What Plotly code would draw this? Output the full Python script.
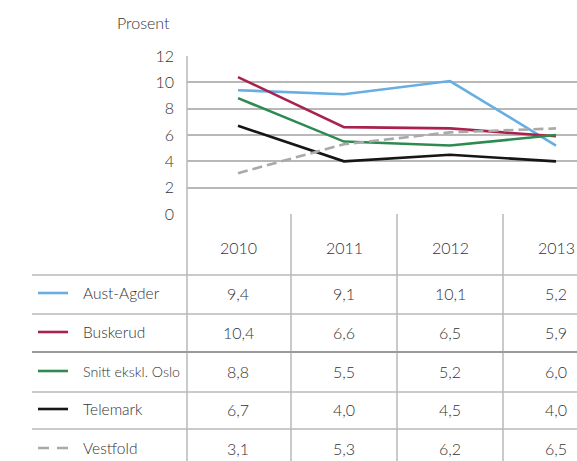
import plotly.graph_objects as go

# ---- data ----
years = [2010, 2011, 2012, 2013]
series_names = ["Aust-Agder", "Buskerud", "Snitt ekskl. Oslo", "Telemark", "Vestfold"]
aust_agder = [9.4, 9.1, 10.1, 5.2]
buskerud = [10.4, 6.6, 6.5, 5.9]
snitt_ekskl_oslo = [8.8, 5.5, 5.2, 6.0]
telemark = [6.7, 4.0, 4.5, 4.0]
vestfold = [3.1, 5.3, 6.2, 6.5]
y_ticks = [0, 2, 4, 6, 8, 10, 12]
y_title = "Prosent"

series_values = [aust_agder, buskerud, snitt_ekskl_oslo, telemark, vestfold]
colors = ["#67aee2", "#a8224c", "#2f8a52", "#161616", "#a9a9a9"]
dashes = ["solid", "solid", "solid", "solid", "10px,5px"]
label_sizes = [15.5, 15.5, 14.2, 15.5, 15.5]

# ---- layout helpers (pixel -> paper) ----
W, H = 577, 461
def px(p):
    return p / W
def py(p):
    return 1 - p / H

plot_left, plot_top, plot_bottom = 187, 56, 214
x_first_px, x_step_px = 238, 106
x_range = [years[0] - (x_first_px - plot_left) / x_step_px,
           years[-1] + (W - (x_first_px + 3 * x_step_px)) / x_step_px]

font_family = "Lato, 'Open Sans', sans-serif"
text_color = "#333333"
grid_color = "#b8b8b8"

def tfont(size):
    return dict(family=font_family, size=size, color=text_color, weight=300)

fig = go.Figure()
for name, vals, col, dash in zip(series_names, series_values, colors, dashes):
    fig.add_trace(go.Scatter(
        x=years, y=vals, mode="lines", name=name,
        line=dict(color=col, width=2.6, dash=dash),
        showlegend=False,
    ))

shapes = []
annotations = []

def label(x, y, text, xref="paper", xanchor="center", size=16):
    annotations.append(dict(x=x, y=y, xref=xref, yref="paper", text=text,
                            showarrow=False, xanchor=xanchor, yanchor="middle",
                            font=tfont(size)))

# left border of the plot and table
shapes.append(dict(type="line", xref="paper", yref="paper",
                   x0=px(plot_left), x1=px(plot_left), y0=py(plot_top), y1=0,
                   line=dict(color=grid_color, width=1.5)))

# column separators in the table
for yr in years[:-1]:
    shapes.append(dict(type="line", xref="x", yref="paper",
                       x0=yr + 0.5, x1=yr + 0.5, y0=py(plot_bottom), y1=0,
                       line=dict(color=grid_color, width=1.5)))

# header row
header_y = 247
for yr in years:
    label(yr, py(header_y), str(yr), xref="x")

# table rows
row_lines = [275, 314, 352, 392, 429]
row_centers = [293, 332, 371, 409, 448]
for i, yl in enumerate(row_lines):
    shapes.append(dict(type="line", xref="paper", yref="paper",
                       x0=px(32), x1=1, y0=py(yl), y1=py(yl),
                       line=dict(color="#9a9a9a" if i == 2 else grid_color,
                                 width=1.8 if i == 2 else 1.4)))

for name, vals, col, dash, yc, ls in zip(series_names, series_values, colors,
                                         dashes, row_centers, label_sizes):
    shapes.append(dict(type="line", xref="paper", yref="paper",
                       x0=px(38), x1=px(68), y0=py(yc), y1=py(yc),
                       line=dict(color=col, width=2.6,
                                 dash="11px,8px" if dash != "solid" else "solid")))
    label(px(81), py(yc), name, xanchor="left", size=ls)
    for yr, v in zip(years, vals):
        label(yr, py(yc), f"{v:.1f}".replace(".", ","), xref="x")

# axis title
label(px(143), py(22), y_title)

fig.update_layout(
    width=W, height=H,
    margin=dict(l=0, r=0, t=0, b=0, autoexpand=False),
    paper_bgcolor="white", plot_bgcolor="white",
    xaxis=dict(domain=[px(plot_left), 1], range=x_range, showgrid=False,
               showticklabels=False, zeroline=False, showline=False, fixedrange=True,
               automargin=False),
    yaxis=dict(domain=[py(plot_bottom), py(plot_top)], range=[0, 12],
               tickvals=y_ticks, showgrid=True, gridcolor=grid_color, gridwidth=1.5,
               zeroline=False, showline=False, ticklabelstandoff=12, automargin=False,
               tickfont=tfont(16)),
    shapes=shapes,
    annotations=annotations,
)

fig.write_html("out.html")
